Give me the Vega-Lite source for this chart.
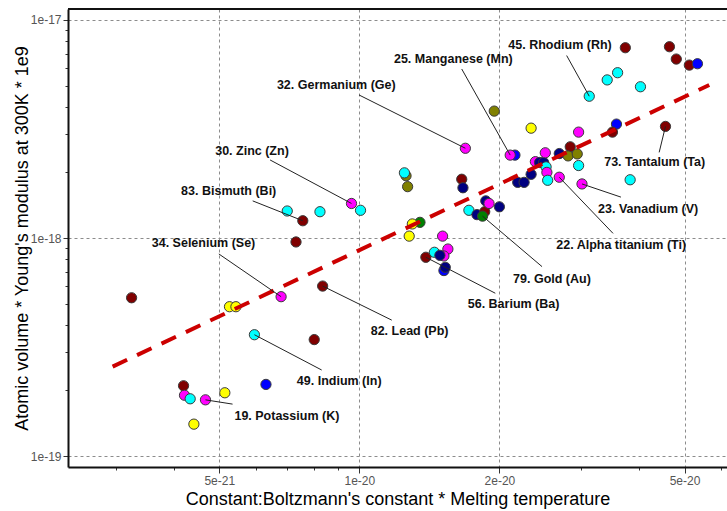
{
  "$schema": "https://vega.github.io/schema/vega-lite/v6.json",
  "width": 659,
  "height": 458,
  "autosize": {"type": "none"},
  "padding": {"left": 68, "top": 9, "right": 0, "bottom": 44},
  "background": "white",
  "config": {"view": {"stroke": null}, "font": "Liberation Sans"},
  "datasets": {
    "points": [
      {"x": 3.24e-21, "y": 5.32e-19, "group": "D"},
      {"x": 5.26e-21, "y": 4.84e-19, "group": "C"},
      {"x": 5.43e-21, "y": 4.84e-19, "group": "C"},
      {"x": 4.19e-21, "y": 2.10e-19, "group": "D"},
      {"x": 4.21e-21, "y": 1.90e-19, "group": "B"},
      {"x": 4.33e-21, "y": 1.83e-19, "group": "A"},
      {"x": 4.67e-21, "y": 1.81e-19, "group": "B"},
      {"x": 5.14e-21, "y": 1.95e-19, "group": "C"},
      {"x": 4.41e-21, "y": 1.40e-19, "group": "C"},
      {"x": 6.30e-21, "y": 2.13e-19, "group": "F"},
      {"x": 5.95e-21, "y": 3.60e-19, "group": "A"},
      {"x": 6.79e-21, "y": 5.38e-19, "group": "B"},
      {"x": 8.34e-21, "y": 6.02e-19, "group": "D"},
      {"x": 8.00e-21, "y": 3.42e-19, "group": "D"},
      {"x": 7.31e-21, "y": 9.59e-19, "group": "D"},
      {"x": 7.00e-21, "y": 1.33e-18, "group": "A"},
      {"x": 7.56e-21, "y": 1.20e-18, "group": "D"},
      {"x": 8.23e-21, "y": 1.32e-18, "group": "A"},
      {"x": 9.62e-21, "y": 1.44e-18, "group": "B"},
      {"x": 1.006e-20, "y": 1.34e-18, "group": "A"},
      {"x": 1.26e-20, "y": 1.93e-18, "group": "G"},
      {"x": 1.25e-20, "y": 1.99e-18, "group": "A"},
      {"x": 1.27e-20, "y": 1.72e-18, "group": "G"},
      {"x": 1.28e-20, "y": 1.02e-18, "group": "C"},
      {"x": 1.35e-20, "y": 1.18e-18, "group": "H"},
      {"x": 1.30e-20, "y": 1.16e-18, "group": "C"},
      {"x": 1.51e-20, "y": 1.02e-18, "group": "B"},
      {"x": 1.55e-20, "y": 8.90e-19, "group": "B"},
      {"x": 1.39e-20, "y": 8.16e-19, "group": "D"},
      {"x": 1.45e-20, "y": 8.60e-19, "group": "A"},
      {"x": 1.52e-20, "y": 8.27e-19, "group": "B"},
      {"x": 1.49e-20, "y": 8.33e-19, "group": "E"},
      {"x": 1.52e-20, "y": 7.09e-19, "group": "F"},
      {"x": 1.53e-20, "y": 7.34e-19, "group": "E"},
      {"x": 1.69e-20, "y": 2.58e-18, "group": "B"},
      {"x": 1.66e-20, "y": 1.86e-18, "group": "D"},
      {"x": 1.67e-20, "y": 1.70e-18, "group": "E"},
      {"x": 1.72e-20, "y": 1.34e-18, "group": "A"},
      {"x": 1.79e-20, "y": 1.28e-18, "group": "E"},
      {"x": 1.86e-20, "y": 1.32e-18, "group": "D"},
      {"x": 1.84e-20, "y": 1.26e-18, "group": "H"},
      {"x": 1.87e-20, "y": 1.48e-18, "group": "E"},
      {"x": 1.90e-20, "y": 1.44e-18, "group": "B"},
      {"x": 2.00e-20, "y": 1.39e-18, "group": "E"},
      {"x": 1.95e-20, "y": 3.82e-18, "group": "G"},
      {"x": 2.34e-20, "y": 3.19e-18, "group": "C"},
      {"x": 2.16e-20, "y": 2.40e-18, "group": "F"},
      {"x": 2.11e-20, "y": 2.40e-18, "group": "B"},
      {"x": 2.19e-20, "y": 1.80e-18, "group": "E"},
      {"x": 2.26e-20, "y": 1.80e-18, "group": "E"},
      {"x": 2.34e-20, "y": 1.96e-18, "group": "E"},
      {"x": 2.39e-20, "y": 2.24e-18, "group": "B"},
      {"x": 2.44e-20, "y": 2.22e-18, "group": "E"},
      {"x": 2.49e-20, "y": 2.22e-18, "group": "E"},
      {"x": 2.51e-20, "y": 2.46e-18, "group": "B"},
      {"x": 2.52e-20, "y": 2.12e-18, "group": "A"},
      {"x": 2.53e-20, "y": 2.00e-18, "group": "B"},
      {"x": 2.54e-20, "y": 1.84e-18, "group": "A"},
      {"x": 2.69e-20, "y": 2.44e-18, "group": "E"},
      {"x": 2.69e-20, "y": 1.90e-18, "group": "B"},
      {"x": 2.84e-20, "y": 2.62e-18, "group": "D"},
      {"x": 2.81e-20, "y": 2.38e-18, "group": "G"},
      {"x": 2.94e-20, "y": 2.43e-18, "group": "G"},
      {"x": 2.96e-20, "y": 2.15e-18, "group": "A"},
      {"x": 2.96e-20, "y": 3.06e-18, "group": "B"},
      {"x": 3.01e-20, "y": 1.77e-18, "group": "B"},
      {"x": 3.12e-20, "y": 4.47e-18, "group": "A"},
      {"x": 3.41e-20, "y": 5.31e-18, "group": "A"},
      {"x": 3.59e-20, "y": 5.73e-18, "group": "A"},
      {"x": 4.02e-20, "y": 4.94e-18, "group": "A"},
      {"x": 3.73e-20, "y": 7.46e-18, "group": "D"},
      {"x": 4.64e-20, "y": 7.54e-18, "group": "D"},
      {"x": 4.80e-20, "y": 6.62e-18, "group": "D"},
      {"x": 5.12e-20, "y": 6.21e-18, "group": "D"},
      {"x": 5.33e-20, "y": 6.30e-18, "group": "F"},
      {"x": 3.57e-20, "y": 3.33e-18, "group": "F"},
      {"x": 3.50e-20, "y": 3.06e-18, "group": "D"},
      {"x": 4.55e-20, "y": 3.25e-18, "group": "D"},
      {"x": 3.82e-20, "y": 1.85e-18, "group": "A"}
    ],
    "labels": [
      {"x": 2.09e-20, "y": 7.68e-18, "label": "45. Rhodium (Rh)"},
      {"x": 1.187e-20, "y": 6.60e-18, "label": "25. Manganese (Mn)"},
      {"x": 6.65e-21, "y": 5.03e-18, "label": "32. Germanium (Ge)"},
      {"x": 4.90e-21, "y": 2.51e-18, "label": "30. Zinc (Zn)"},
      {"x": 4.14e-21, "y": 1.65e-18, "label": "83. Bismuth (Bi)"},
      {"x": 3.58e-21, "y": 9.46e-19, "label": "34. Selenium (Se)"},
      {"x": 1.058e-20, "y": 3.74e-19, "label": "82. Lead (Pb)"},
      {"x": 7.34e-21, "y": 2.21e-19, "label": "49. Indium (In)"},
      {"x": 5.39e-21, "y": 1.53e-19, "label": "19. Potassium (K)"},
      {"x": 1.71e-20, "y": 4.96e-19, "label": "56. Barium (Ba)"},
      {"x": 2.14e-20, "y": 6.48e-19, "label": "79. Gold (Au)"},
      {"x": 2.65e-20, "y": 9.29e-19, "label": "22. Alpha titanium (Ti)"},
      {"x": 3.26e-20, "y": 1.36e-18, "label": "23. Vanadium (V)"},
      {"x": 3.36e-20, "y": 2.22e-18, "label": "73. Tantalum (Ta)"}
    ],
    "leaders": [
      {"x": 2.79e-20, "y": 6.87e-18, "x2": 3.12e-20, "y2": 4.47e-18},
      {"x": 1.66e-20, "y": 5.96e-18, "x2": 2.11e-20, "y2": 2.40e-18},
      {"x": 9.985e-21, "y": 4.53e-18, "x2": 1.69e-20, "y2": 2.58e-18},
      {"x": 6.43e-21, "y": 2.28e-18, "x2": 9.62e-21, "y2": 1.44e-18},
      {"x": 5.90e-21, "y": 1.48e-18, "x2": 7.56e-21, "y2": 1.20e-18},
      {"x": 4.99e-21, "y": 8.45e-19, "x2": 6.79e-21, "y2": 5.38e-19},
      {"x": 1.174e-20, "y": 4.20e-19, "x2": 8.34e-21, "y2": 6.02e-19},
      {"x": 8.30e-21, "y": 2.48e-19, "x2": 5.95e-21, "y2": 3.60e-19},
      {"x": 5.34e-21, "y": 1.73e-19, "x2": 4.67e-21, "y2": 1.81e-19},
      {"x": 1.96e-20, "y": 5.58e-19, "x2": 1.39e-20, "y2": 8.16e-19},
      {"x": 2.47e-20, "y": 7.39e-19, "x2": 1.84e-20, "y2": 1.26e-18},
      {"x": 3.51e-20, "y": 1.05e-18, "x2": 2.69e-20, "y2": 1.90e-18},
      {"x": 3.65e-20, "y": 1.54e-18, "x2": 3.01e-20, "y2": 1.77e-18},
      {"x": 4.41e-20, "y": 2.47e-18, "x2": 4.55e-20, "y2": 3.25e-18}
    ],
    "fit": [
      {"x": 2.95e-21, "y": 2.57e-19, "x2": 5.65e-20, "y2": 5.03e-18}
    ],
    "frame": [
      {"y": 1.1231e-17}
    ]
  },
  "layer": [
    {
      "data": {"name": "points"},
      "mark": {"type": "circle", "size": 105, "opacity": 1, "stroke": "#3a3a3a", "strokeWidth": 1},
      "encoding": {
        "x": {
          "field": "x", "type": "quantitative",
          "scale": {"type": "log", "domain": [2.3653e-21, 6.1692e-20], "nice": false, "zero": false},
          "axis": {
            "title": "Constant:Boltzmann's constant * Melting temperature",
            "values": [3e-21, 4e-21, 5e-21, 6e-21, 7e-21, 8e-21, 9e-21, 1e-20, 2e-20, 3e-20, 4e-20, 5e-20, 6e-20],
            "format": ".0e",
            "labelExpr": "indexof(['5e-21','1e-20','2e-20','5e-20'], datum.label) >= 0 ? datum.label : ''",
            "grid": true,
            "gridOpacity": {"condition": {"test": "indexof(['5e-21','1e-20','2e-20','5e-20'], format(datum.value, '.0e')) >= 0", "value": 1}, "value": 0},
            "gridDash": [3, 3],
            "gridColor": "#8c8c8c",
            "gridWidth": 1,
            "tickSize": {"condition": {"test": "indexof(['5e-21','1e-20','2e-20','5e-20'], format(datum.value, '.0e')) >= 0", "value": 6}, "value": 3},
            "tickColor": "#333333",
            "domainColor": "#111111",
            "domainWidth": 2,
            "labelColor": "#555555",
            "labelFont": "Liberation Sans",
            "labelFontSize": 12,
            "labelPadding": 2,
            "labelOverlap": false,
            "labelFlush": false,
            "titleFont": "Liberation Sans",
            "titleFontSize": 18,
            "titleFontWeight": "normal",
            "titleColor": "#000000",
            "titleBaseline": "alphabetic",
            "titleX": 329.5,
            "titleY": 37
          }
        },
        "y": {
          "field": "y", "type": "quantitative",
          "scale": {"type": "log", "domain": [8.904e-20, 1.1231e-17], "nice": false, "zero": false},
          "axis": {
            "title": "Atomic volume * Young's modulus at 300K * 1e9",
            "values": [1e-19, 2e-19, 3e-19, 4e-19, 5e-19, 6e-19, 7e-19, 8e-19, 9e-19, 1e-18, 2e-18, 3e-18, 4e-18, 5e-18, 6e-18, 7e-18, 8e-18, 9e-18, 1e-17],
            "format": ".0e",
            "labelExpr": "indexof(['1e-19','1e-18','1e-17'], datum.label) >= 0 ? datum.label : ''",
            "grid": true,
            "gridOpacity": {"condition": {"test": "indexof(['1e-19','1e-18','1e-17'], format(datum.value, '.0e')) >= 0", "value": 1}, "value": 0},
            "gridDash": [3, 3],
            "gridColor": "#8c8c8c",
            "gridWidth": 1,
            "tickSize": {"condition": {"test": "indexof(['1e-19','1e-18','1e-17'], format(datum.value, '.0e')) >= 0", "value": 5}, "value": 3},
            "tickColor": "#333333",
            "domainColor": "#111111",
            "domainWidth": 2,
            "labelColor": "#555555",
            "labelFont": "Liberation Sans",
            "labelFontSize": 12,
            "labelPadding": 2,
            "labelOverlap": false,
            "labelFlush": false,
            "titleFont": "Liberation Sans",
            "titleFontSize": 18,
            "titleFontWeight": "normal",
            "titleColor": "#000000",
            "titleBaseline": "alphabetic",
            "titleX": -41,
            "titleY": 229
          }
        },
        "color": {
          "field": "group", "type": "nominal", "legend": null,
          "scale": {"domain": ["A", "B", "C", "D", "E", "F", "G", "H"], "range": ["#00FFFF", "#FF00FF", "#FFFF00", "#800000", "#000080", "#0000FF", "#808000", "#008000"]}
        }
      }
    },
    {
      "data": {"name": "fit"},
      "mark": {"type": "rule", "color": "#CC0000", "strokeWidth": 4, "strokeDash": [16, 11], "strokeCap": "butt"},
      "encoding": {
        "x": {"field": "x", "type": "quantitative", "scale": {"type": "log", "domain": [2.3653e-21, 6.1692e-20], "nice": false, "zero": false}},
        "y": {"field": "y", "type": "quantitative", "scale": {"type": "log", "domain": [8.904e-20, 1.1231e-17], "nice": false, "zero": false}},
        "x2": {"field": "x2"},
        "y2": {"field": "y2"}
      }
    },
    {
      "data": {"name": "leaders"},
      "mark": {"type": "rule", "color": "#222222", "strokeWidth": 1},
      "encoding": {
        "x": {"field": "x", "type": "quantitative", "scale": {"type": "log", "domain": [2.3653e-21, 6.1692e-20], "nice": false, "zero": false}},
        "y": {"field": "y", "type": "quantitative", "scale": {"type": "log", "domain": [8.904e-20, 1.1231e-17], "nice": false, "zero": false}},
        "x2": {"field": "x2"},
        "y2": {"field": "y2"}
      }
    },
    {
      "data": {"name": "labels"},
      "mark": {"type": "text", "align": "left", "baseline": "middle", "font": "Liberation Sans", "fontSize": 12.5, "fontWeight": "bold", "color": "#111111"},
      "encoding": {
        "x": {"field": "x", "type": "quantitative", "scale": {"type": "log", "domain": [2.3653e-21, 6.1692e-20], "nice": false, "zero": false}},
        "y": {"field": "y", "type": "quantitative", "scale": {"type": "log", "domain": [8.904e-20, 1.1231e-17], "nice": false, "zero": false}},
        "text": {"field": "label"}
      }
    },
    {
      "data": {"name": "frame"},
      "mark": {"type": "rule", "color": "#111111", "strokeWidth": 2},
      "encoding": {
        "y": {"field": "y", "type": "quantitative", "scale": {"type": "log", "domain": [8.904e-20, 1.1231e-17], "nice": false, "zero": false}}
      }
    }
  ]
}
